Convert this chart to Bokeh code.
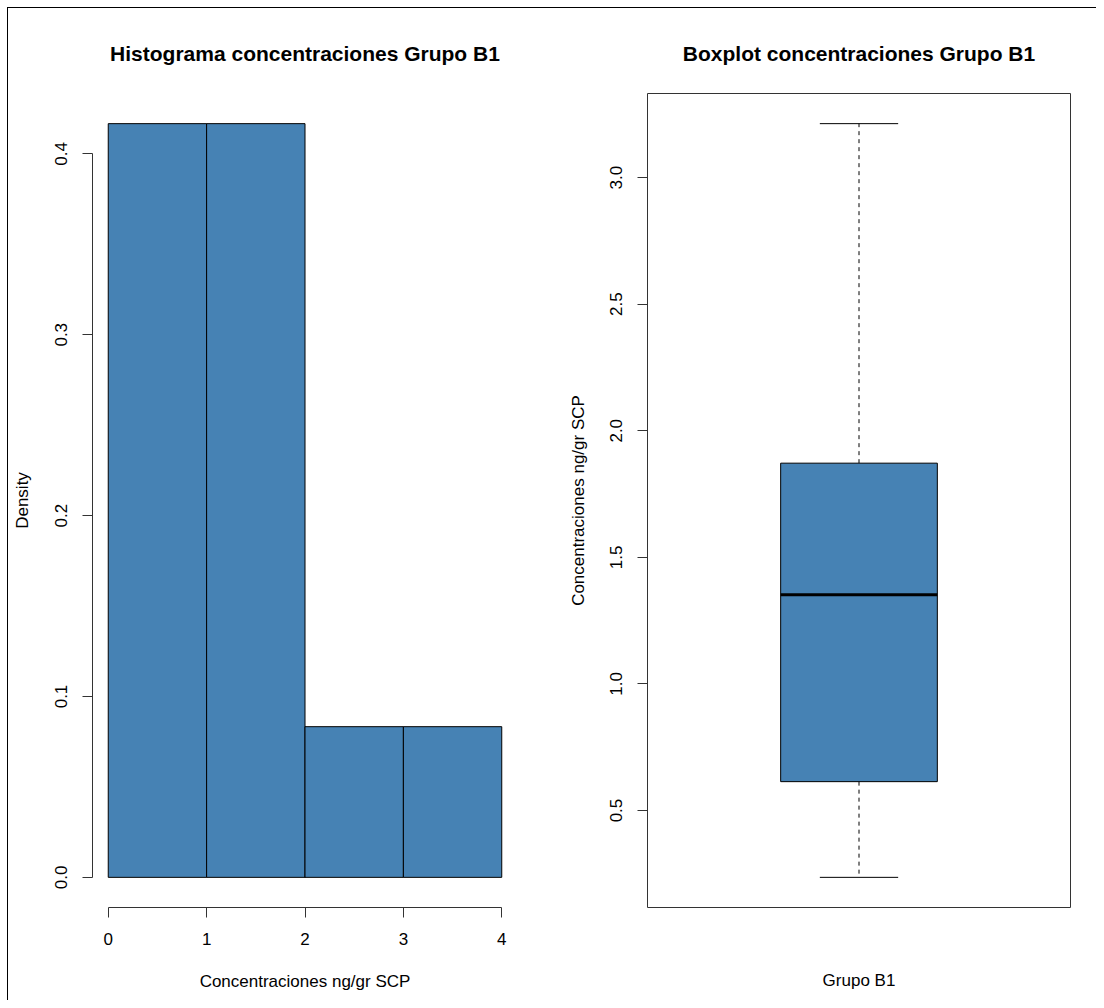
from bokeh.plotting import figure
from bokeh.layouts import row
from bokeh.models import FixedTicker, PrintfTickFormatter, ColumnDataSource, Range1d
from bokeh.embed import file_html
from bokeh.resources import INLINE

# ---- data ----
breaks = [0, 1, 2, 3, 4]
density = [0.4167, 0.4167, 0.0833, 0.0833]
hist_yticks = [0.0, 0.1, 0.2, 0.3, 0.4]
hist_xticks = [0, 1, 2, 3, 4]

box_group = "Grupo B1"
box_lower_whisker = 0.236
box_q1 = 0.614
box_median = 1.352
box_q3 = 1.872
box_upper_whisker = 3.213
box_yticks = [0.5, 1.0, 1.5, 2.0, 2.5, 3.0]

FONT = "Liberation Sans"
BLUE = "#4682B4"
LABEL_SIZE = "17px"


def style_common(p):
    p.xgrid.visible = False
    p.ygrid.visible = False
    p.background_fill_color = "white"
    p.border_fill_color = "white"
    p.title.text_font = FONT
    p.title.text_font_size = "21px"
    p.title.text_font_style = "bold"
    p.title.text_color = "black"
    p.title.align = "center"
    p.title.standoff = 57
    for ax in (p.xaxis[0], p.yaxis[0]):
        ax.axis_label_text_font = FONT
        ax.axis_label_text_font_size = LABEL_SIZE
        ax.axis_label_text_font_style = "normal"
        ax.axis_label_text_color = "black"
        ax.major_label_text_font = FONT
        ax.major_label_text_font_size = LABEL_SIZE
        ax.major_label_text_color = "black"
        ax.axis_line_color = "#333333"
        ax.major_tick_line_color = "#333333"
        ax.minor_tick_line_color = None
        ax.major_tick_in = 0
        ax.major_tick_out = 10


# ---- histogram ----
xmin, xmax = breaks[0], breaks[-1]
xpad = 0.04 * (xmax - xmin)
ymax_h = max(density)
ypad = 0.04 * ymax_h

p1 = figure(frame_width=425, frame_height=814,
            x_range=Range1d(xmin - xpad, xmax + xpad),
            y_range=Range1d(0 - ypad, ymax_h + ypad),
            title="Histograma concentraciones Grupo B1",
            output_backend="svg", toolbar_location=None,
            min_border_left=84, min_border_right=43,
            min_border_top=85, min_border_bottom=93)
style_common(p1)
p1.outline_line_color = None

src = ColumnDataSource(dict(left=breaks[:-1], right=breaks[1:],
                            top=density, bottom=[0] * len(density)))
p1.quad(left="left", right="right", top="top", bottom="bottom", source=src,
        fill_color=BLUE, line_color="black", line_width=1)

p1.xaxis[0].ticker = FixedTicker(ticks=hist_xticks)
p1.xaxis[0].bounds = (hist_xticks[0], hist_xticks[-1])
p1.xaxis[0].axis_label = "Concentraciones ng/gr SCP"
p1.xaxis[0].major_label_standoff = 15
p1.xaxis[0].axis_label_standoff = 24

p1.yaxis[0].ticker = FixedTicker(ticks=hist_yticks)
p1.yaxis[0].bounds = (hist_yticks[0], hist_yticks[-1])
p1.yaxis[0].formatter = PrintfTickFormatter(format="%.1f")
p1.yaxis[0].major_label_orientation = "vertical"
p1.yaxis[0].axis_label = "Density"
p1.yaxis[0].major_label_standoff = 15
p1.yaxis[0].axis_label_standoff = 21

# ---- boxplot ----
lo, hi = box_lower_whisker, box_upper_whisker
bpad = 0.04 * (hi - lo)
p2 = figure(frame_width=423, frame_height=814,
            x_range=Range1d(0.46, 1.54),
            y_range=Range1d(lo - bpad, hi + bpad),
            title="Boxplot concentraciones Grupo B1",
            output_backend="svg", toolbar_location=None,
            min_border_left=87, min_border_right=26,
            min_border_top=85, min_border_bottom=93)
style_common(p2)
p2.outline_line_color = "#333333"
p2.outline_line_width = 1
p2.outline_line_alpha = 1.0

pos = 1.0
p2.segment(x0=[pos, pos], y0=[box_q3, box_q1], x1=[pos, pos],
           y1=[box_upper_whisker, box_lower_whisker],
           line_color="black", line_width=1, line_dash="4 4")
p2.segment(x0=[pos - 0.1, pos - 0.1], y0=[box_upper_whisker, box_lower_whisker],
           x1=[pos + 0.1, pos + 0.1], y1=[box_upper_whisker, box_lower_whisker],
           line_color="black", line_width=1)
p2.quad(left=[pos - 0.2], right=[pos + 0.2], bottom=[box_q1], top=[box_q3],
        fill_color=BLUE, line_color="black", line_width=1)
p2.segment(x0=[pos - 0.2], y0=[box_median], x1=[pos + 0.2], y1=[box_median],
           line_color="black", line_width=3)

p2.yaxis[0].ticker = FixedTicker(ticks=box_yticks)
p2.yaxis[0].formatter = PrintfTickFormatter(format="%.1f")
p2.yaxis[0].major_label_orientation = "vertical"
p2.yaxis[0].axis_line_color = None
p2.yaxis[0].axis_label = "Concentraciones ng/gr SCP"
p2.yaxis[0].major_label_standoff = 15
p2.yaxis[0].axis_label_standoff = 20

p2.xaxis[0].ticker = FixedTicker(ticks=[])
p2.xaxis[0].axis_line_color = None
p2.xaxis[0].major_tick_out = 0
p2.xaxis[0].major_label_standoff = 0
p2.xaxis[0].axis_label = box_group
p2.xaxis[0].axis_label_standoff = 63

layout = row(p1, p2, styles={"margin-left": "7px", "margin-top": "7px",
                             "border-top": "1px solid black",
                             "border-left": "1px solid black"})

open("out.html", "w").write(file_html(layout, INLINE))
